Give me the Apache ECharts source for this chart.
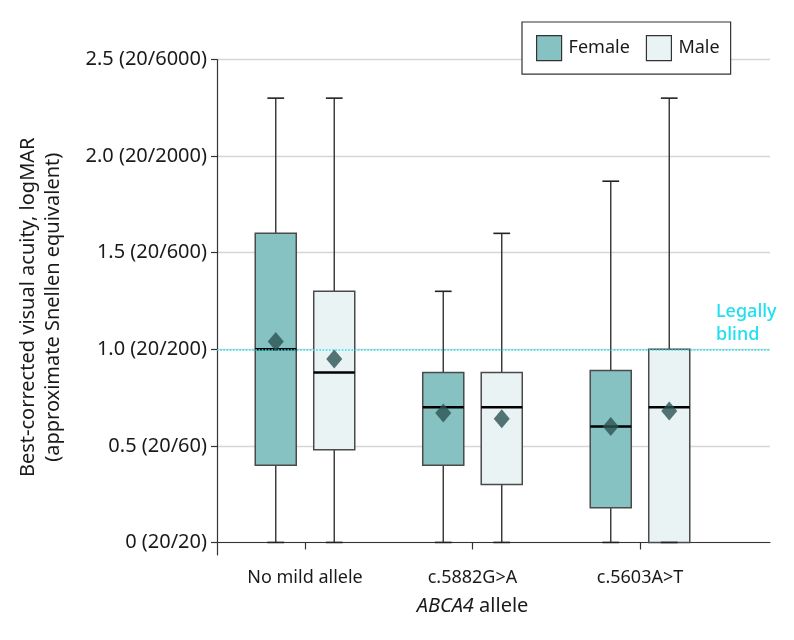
<!DOCTYPE html>
<html>
<head>
<meta charset="utf-8">
<script src="https://cdn.jsdelivr.net/npm/echarts@6/dist/echarts.min.js"></script>
<style>
html,body{margin:0;padding:0;background:#fff;}
#chart{width:794px;height:640px;}
</style>
</head>
<body>
<div id="chart"></div>
<script>
// ---- data ----
const categories = ['No mild allele', 'c.5882G>A', 'c.5603A>T'];
// [min, q1, median, q3, max]
const femaleStats = [
  [0, 0.40, 1.00, 1.60, 2.30],
  [0, 0.40, 0.70, 0.88, 1.30],
  [0, 0.18, 0.60, 0.89, 1.87]
];
const maleStats = [
  [0, 0.48, 0.88, 1.30, 2.30],
  [0, 0.30, 0.70, 0.88, 1.60],
  [0, 0.00, 0.70, 1.00, 2.30]
];
const femaleMeans = [1.04, 0.67, 0.60];
const maleMeans = [0.95, 0.64, 0.68];
const yTicks = [0, 0.5, 1.0, 1.5, 2.0, 2.5];
const yTickLabels = ['0 (20/20)', '0.5 (20/60)', '1.0 (20/200)', '1.5 (20/600)', '2.0 (20/2000)', '2.5 (20/6000)'];
const blindThreshold = 1.0;

// ---- style ----
const FONT = 'Noto Sans';
const femaleColor = '#86c2c1';
const maleColor = '#e9f3f4';
const meanColor = '#2b5352';
const Y_MIN = -0.065, Y_MAX = 2.5;
const OFFSET_FRAC = 0.1746;   // dodge offset as fraction of category band
const BOX_FRAC = 0.245;       // box width as fraction of band
const CAP_FRAC = 0.10;        // whisker cap width as fraction of band

function boxRenderer(sign, fill) {
  return function (params, api) {
    const xi = api.value(0);
    const band = api.size([1, 0])[0];
    const c = api.coord([xi, api.value(3)]);
    const cx = c[0] + sign * OFFSET_FRAC * band;
    const bw = BOX_FRAC * band;
    const cw = CAP_FRAC * band;
    const yLo = api.coord([xi, api.value(1)])[1];
    const yQ1 = api.coord([xi, api.value(2)])[1];
    const yMed = api.coord([xi, api.value(3)])[1];
    const yQ3 = api.coord([xi, api.value(4)])[1];
    const yHi = api.coord([xi, api.value(5)])[1];
    return {
      type: 'group',
      children: [
        { type: 'line', shape: { x1: cx, y1: yHi, x2: cx, y2: yLo },
          style: { stroke: '#333', lineWidth: 1.4 } },
        { type: 'rect', shape: { x: cx - bw / 2, y: yQ3, width: bw, height: yQ1 - yQ3 },
          style: { fill: fill, stroke: '#4a4a4a', lineWidth: 1.5 } },
        { type: 'line', shape: { x1: cx - bw / 2, y1: yMed, x2: cx + bw / 2, y2: yMed },
          style: { stroke: '#000', lineWidth: 2.5 } },
        { type: 'line', shape: { x1: cx - cw / 2, y1: yHi, x2: cx + cw / 2, y2: yHi },
          style: { stroke: '#222', lineWidth: 1.6 } },
        { type: 'line', shape: { x1: cx - cw / 2, y1: yLo, x2: cx + cw / 2, y2: yLo },
          style: { stroke: '#222', lineWidth: 1.6 } }
      ]
    };
  };
}

const chart = echarts.init(document.getElementById('chart'), null, { renderer: 'canvas' });

const option = {
  animation: false,
  backgroundColor: '#fff',
  textStyle: { fontFamily: FONT },
  legend: {
    left: 522, top: 22,
    orient: 'horizontal',
    itemWidth: 25, itemHeight: 25, itemGap: 16,
    padding: [13, 11, 13, 14],
    borderColor: '#333', borderWidth: 1.2,
    backgroundColor: '#fff',
    textStyle: { fontFamily: FONT, fontSize: 18, color: '#1a1a1a', padding: [0, 0, 0, 2] },
    data: [
      { name: 'Female', icon: 'rect', itemStyle: { color: femaleColor, borderColor: '#333', borderWidth: 1.2 } },
      { name: 'Male', icon: 'rect', itemStyle: { color: maleColor, borderColor: '#333', borderWidth: 1.2 } }
    ]
  },
  grid: [
    { left: 217, right: 24, top: 59.5, bottom: 85 },
    { left: 221.25, width: 502.5, top: 59.5, bottom: 85 }
  ],
  xAxis: [
    {
      type: 'category', gridIndex: 0, data: [''],
      axisLine: { show: true, lineStyle: { color: '#333', width: 1.2 } },
      axisTick: { show: false }, axisLabel: { show: false }, splitLine: { show: false }
    },
    {
      type: 'category', gridIndex: 1, data: categories,
      axisLine: { show: false },
      axisTick: { show: true, alignWithLabel: true, length: 7, lineStyle: { color: '#333', width: 1.2 } },
      axisLabel: { fontFamily: FONT, fontSize: 18, color: '#1a1a1a', margin: 14 },
      name: '{i|ABCA4} allele',
      nameLocation: 'middle', nameGap: 41,
      nameTextStyle: {
        fontFamily: FONT, fontSize: 20, color: '#1a1a1a',
        rich: { i: { fontFamily: FONT, fontSize: 20, fontStyle: 'italic', color: '#1a1a1a' } }
      }
    }
  ],
  yAxis: [
    {
      type: 'value', gridIndex: 0, min: Y_MIN, max: Y_MAX,
      axisLine: { show: true, lineStyle: { color: '#333', width: 1.2 } },
      axisTick: { show: true, length: 6, customValues: yTicks, lineStyle: { color: '#333', width: 1.2 } },
      axisLabel: {
        show: true, customValues: yTicks, fontFamily: FONT, fontSize: 20, color: '#1a1a1a', margin: 10,
        formatter: function (v) { const i = yTicks.findIndex(t => Math.abs(t - v) < 1e-6); return i >= 0 ? yTickLabels[i] : ''; }
      },
      splitLine: { show: true, lineStyle: { color: '#d6d6d6', width: 1.4 } },
      name: 'Best-corrected visual acuity, logMAR\n(approximate Snellen equivalent)',
      nameLocation: 'middle', nameRotate: 90, nameGap: 151,
      nameTextStyle: { fontFamily: FONT, fontSize: 20, color: '#1a1a1a', lineHeight: 25, align: 'center' }
    },
    {
      type: 'value', gridIndex: 1, min: Y_MIN, max: Y_MAX, show: false,
      splitLine: { show: false }
    }
  ],
  series: [
    {
      type: 'line', xAxisIndex: 0, yAxisIndex: 0, data: [], silent: true,
      markLine: {
        silent: true, symbol: 'none',
        label: { show: false },
        lineStyle: { type: 'dotted', color: '#22e2ee', width: 1.6 },
        data: [{ yAxis: blindThreshold }]
      }
    },
    {
      name: 'Female', type: 'custom', xAxisIndex: 1, yAxisIndex: 1, clip: false,
      itemStyle: { color: femaleColor },
      renderItem: boxRenderer(-1, femaleColor),
      encode: { x: 0, y: [1, 2, 3, 4, 5] },
      data: femaleStats.map((s, i) => [i].concat(s)), z: 3
    },
    {
      name: 'Male', type: 'custom', xAxisIndex: 1, yAxisIndex: 1, clip: false,
      itemStyle: { color: maleColor },
      renderItem: boxRenderer(1, maleColor),
      encode: { x: 0, y: [1, 2, 3, 4, 5] },
      data: maleStats.map((s, i) => [i].concat(s)), z: 3
    },
    {
      type: 'scatter', xAxisIndex: 1, yAxisIndex: 1, symbol: 'diamond', symbolSize: [16, 19],
      symbolOffset: [-29.25, 0], itemStyle: { color: meanColor }, z: 5,
      data: femaleMeans.map((m, i) => [i, m])
    },
    {
      type: 'scatter', xAxisIndex: 1, yAxisIndex: 1, symbol: 'diamond', symbolSize: [16, 19],
      symbolOffset: [29.25, 0], itemStyle: { color: meanColor }, z: 5,
      data: maleMeans.map((m, i) => [i, m])
    }
  ],
  graphic: [
    {
      type: 'text', left: 716, top: 300, z: 10,
      style: { text: 'Legally\nblind', fill: '#1ee0ee', font: '500 18px "Noto Sans"', lineHeight: 23 }
    }
  ]
};
chart.setOption(option);
</script>
</body>
</html>
